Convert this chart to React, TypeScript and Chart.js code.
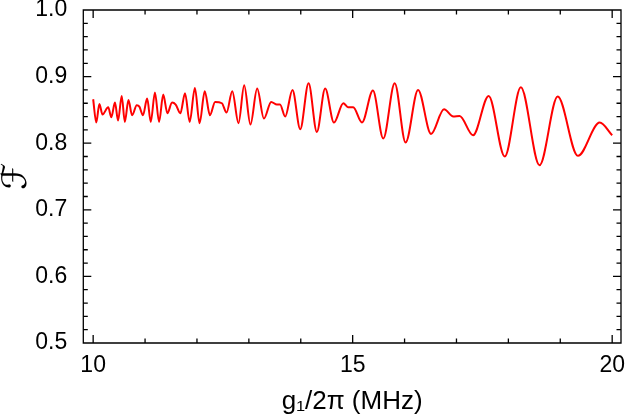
import { useEffect, useRef } from "react"
import { Chart, registerables } from "chart.js"

Chart.register(...registerables)

// coupling g1/2π (MHz) at the turning points of the curve
const gValues = [
  10.0, 10.06, 10.12, 10.18, 10.29, 10.35, 10.42, 10.48, 10.55, 10.61,
  10.68, 10.75, 10.84, 10.89, 10.96, 11.04, 11.11, 11.19, 11.27, 11.35,
  11.43, 11.52, 11.59, 11.68, 11.77, 11.86, 11.96, 12.05, 12.15, 12.25,
  12.35, 12.48, 12.57, 12.68, 12.8, 12.91, 13.03, 13.16, 13.29, 13.43,
  13.54, 13.6, 13.7, 13.84, 13.99, 14.15, 14.31, 14.47, 14.64, 14.82,
  14.91, 15.01, 15.18, 15.39, 15.59, 15.81, 16.02, 16.26, 16.51, 16.76,
  16.94, 17.06, 17.32, 17.62, 17.93, 18.24, 18.6, 18.95, 19.34, 19.76,
  20.0,
]

// fidelity F
const fidelity = [
  0.866, 0.831, 0.859, 0.843, 0.854, 0.839, 0.861, 0.834, 0.871, 0.832,
  0.865, 0.842, 0.857, 0.855, 0.842, 0.867, 0.832, 0.876, 0.832, 0.873,
  0.845, 0.861, 0.858, 0.845, 0.875, 0.832, 0.883, 0.83, 0.878, 0.842,
  0.862, 0.86, 0.846, 0.878, 0.83, 0.887, 0.828, 0.882, 0.837, 0.862,
  0.858, 0.858, 0.84, 0.88, 0.821, 0.89, 0.817, 0.882, 0.831, 0.86,
  0.854, 0.854, 0.831, 0.879, 0.807, 0.89, 0.801, 0.88, 0.814, 0.851,
  0.84, 0.841, 0.812, 0.871, 0.78, 0.884, 0.767, 0.87, 0.781, 0.831,
  0.812,
]

const xTickValues = [10, 15, 20]
const yTickValues = [0.5, 0.6, 0.7, 0.8, 0.9, 1.0]

const labelFont = { family: "'Liberation Sans', Arial, sans-serif", size: 23 }

// Mathematica-style frame with inward ticks on all four sides
const frameTicks = {
  id: "frameTicks",
  afterDraw(chart: any) {
    const { ctx, chartArea: a, scales } = chart
    const xs = scales.x
    const ys = scales.y
    ctx.save()
    ctx.strokeStyle = "#000"
    ctx.lineWidth = 1.3
    ctx.beginPath()
    ctx.rect(a.left, a.top, a.right - a.left, a.bottom - a.top)
    for (let v = 10; v <= 20; v++) {
      const px = xs.getPixelForValue(v)
      const len = v % 5 === 0 ? 8 : 4.5
      ctx.moveTo(px, a.bottom)
      ctx.lineTo(px, a.bottom - len)
      ctx.moveTo(px, a.top)
      ctx.lineTo(px, a.top + len)
    }
    for (let i = 0; i <= 25; i++) {
      const py = ys.getPixelForValue(0.5 + i * 0.02)
      const len = i % 5 === 0 ? 8 : 4.5
      ctx.moveTo(a.left, py)
      ctx.lineTo(a.left + len, py)
      ctx.moveTo(a.right, py)
      ctx.lineTo(a.right - len, py)
    }
    ctx.stroke()
    ctx.restore()
  },
}

export default function App() {
  const chartRef = useRef<HTMLCanvasElement>(null)
  const chartInstance = useRef<Chart | null>(null)

  useEffect(() => {
    if (!chartRef.current) return
    if (chartInstance.current) chartInstance.current.destroy()

    chartInstance.current = new Chart(chartRef.current, {
      type: "line",
      data: {
        datasets: [
          {
            data: gValues.map((g, i) => ({ x: g, y: fidelity[i] })),
            borderColor: "#ff0000",
            borderWidth: 2,
            pointRadius: 0,
            fill: false,
            cubicInterpolationMode: "monotone",
          },
        ],
      },
      options: {
        animation: false,
        responsive: true,
        maintainAspectRatio: false,
        layout: { padding: { top: 10, right: 6, left: 0, bottom: 0 } },
        plugins: {
          legend: { display: false },
          tooltip: { enabled: false },
        },
        scales: {
          x: {
            type: "linear",
            min: 9.81,
            max: 20.17,
            afterBuildTicks: (s: any) => {
              s.ticks = xTickValues.map((v) => ({ value: v }))
            },
            afterFit: (s: any) => {
              s.height = 75
              s.paddingLeft = 0
              s.paddingRight = 0
            },
            grid: { display: false },
            border: { display: false },
            ticks: {
              color: "#000",
              padding: 1,
              font: labelFont,
              maxRotation: 0,
              callback: (v: any) => String(v),
            },
            title: {
              display: true,
              text: "g₁/2π (MHz)",
              color: "#000",
              font: { family: "'Liberation Sans', 'DejaVu Sans', sans-serif", size: 26 },
              padding: { top: 0, bottom: 1 },
            },
          },
          y: {
            type: "linear",
            min: 0.5,
            max: 1.0,
            afterBuildTicks: (s: any) => {
              s.ticks = yTickValues.map((v) => ({ value: v }))
            },
            afterFit: (s: any) => {
              s.width = 83.3
              s.paddingTop = 0
              s.paddingBottom = 0
            },
            grid: { display: false },
            border: { display: false },
            ticks: {
              color: "#000",
              padding: 8,
              font: labelFont,
              callback: (v: any) => Number(v).toFixed(1),
            },
            title: {
              display: true,
              text: "ℱ",
              color: "#000",
              font: { family: "'DejaVu Sans', serif", size: 34, lineHeight: 1 },
              padding: 0,
            },
          },
        },
      },
      plugins: [frameTicks],
    })

    return () => {
      if (chartInstance.current) {
        chartInstance.current.destroy()
        chartInstance.current = null
      }
    }
  }, [])

  return (
    <div style={{ position: "absolute", left: 0, top: 0, width: 627, height: 418, background: "#fff" }}>
      <canvas ref={chartRef} />
    </div>
  )
}
